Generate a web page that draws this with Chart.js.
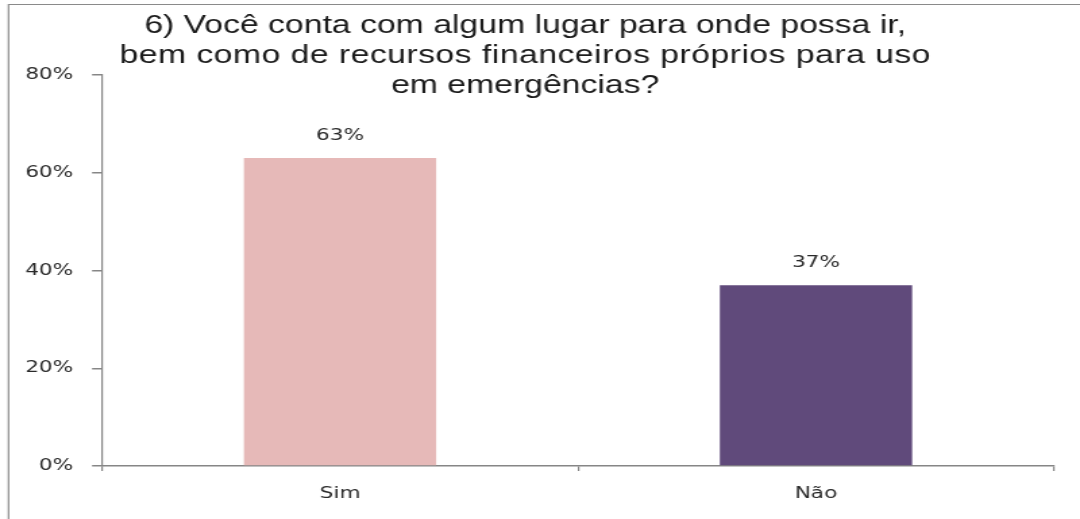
<!DOCTYPE html>
<html>
<head>
<meta charset="utf-8">
<script src="https://cdn.jsdelivr.net/npm/chart.js@4"></script>
<style>
  html, body { margin: 0; padding: 0; background: #fff; overflow: hidden; }
  /* the chart is laid out on an 800px canvas and stretched horizontally to 1080px */
  #wrap { width: 800px; height: 519px; transform: scale(1.35, 1); transform-origin: 0 0; }
</style>
</head>
<body>
<div id="wrap"><canvas id="c" width="800" height="519"></canvas></div>
<script>
const titleLines = [
  '6) Você conta com algum lugar para onde possa ir,',
  'bem como de recursos financeiros próprios para uso',
  'em emergências?'
];
const categories = ['Sim', 'Não'];
const shares = [63, 37];
const barColors = ['#E6B9B8', '#604A7B'];
const yMin = 0;
const yMax = 80;
const yStep = 20;

const axisGray = '#868686';
const textDark = '#2a2a2a';
const tickFont = { family: '"DejaVu Sans", Verdana, sans-serif', size: 16 };

// white page with the thin left/top frame line
const framePlugin = {
  id: 'frame',
  beforeDraw(chart) {
    const ctx = chart.ctx;
    ctx.save();
    ctx.fillStyle = '#fff';
    ctx.fillRect(0, 0, chart.width, chart.height);
    ctx.strokeStyle = '#8a8a8a';
    ctx.lineWidth = 1.2;
    ctx.beginPath();
    ctx.moveTo(6.3, chart.height);
    ctx.lineTo(6.3, 4.5);
    ctx.lineTo(chart.width, 4.5);
    ctx.stroke();
    ctx.restore();
  }
};

// three-line heading drawn over the top of the plot area
const headingPlugin = {
  id: 'heading',
  afterDraw(chart) {
    const ctx = chart.ctx;
    ctx.save();
    ctx.font = '25px "Liberation Sans", Arial, sans-serif';
    ctx.fillStyle = '#1c1c1c';
    ctx.textAlign = 'center';
    ctx.textBaseline = 'alphabetic';
    const baselines = [33, 63, 93];
    const spacing = ['0px', '0.35px', '0px'];
    titleLines.forEach((line, i) => {
      ctx.letterSpacing = spacing[i];
      ctx.fillText(line, 389, baselines[i]);
    });
    ctx.restore();
  }
};

// percentage above each bar
const valuePlugin = {
  id: 'values',
  afterDatasetsDraw(chart) {
    const ctx = chart.ctx;
    const meta = chart.getDatasetMeta(0);
    ctx.save();
    ctx.font = '16px "DejaVu Sans", Verdana, sans-serif';
    ctx.fillStyle = textDark;
    ctx.textAlign = 'center';
    ctx.textBaseline = 'middle';
    meta.data.forEach((bar, i) => {
      ctx.fillText(shares[i] + '%', bar.x, bar.y - 22);
    });
    ctx.restore();
  }
};

new Chart(document.getElementById('c'), {
  type: 'bar',
  data: {
    labels: categories,
    datasets: [{
      data: shares,
      backgroundColor: barColors,
      borderWidth: 0,
      categoryPercentage: 1,
      barPercentage: 0.404
    }]
  },
  options: {
    responsive: false,
    animation: false,
    devicePixelRatio: 1,
    layout: { padding: { top: 75, right: 19.3, bottom: 0, left: 0 } },
    plugins: {
      legend: { display: false },
      title: { display: false },
      tooltip: { enabled: false }
    },
    scales: {
      x: {
        grid: {
          offset: true,
          drawOnChartArea: false,
          drawTicks: true,
          tickLength: 5,
          color: axisGray,
          lineWidth: 1.2
        },
        border: { display: true, color: axisGray, width: 1.5 },
        ticks: { font: tickFont, color: textDark, padding: 13 },
        afterFit(scale) { scale.height = 53; }
      },
      y: {
        min: yMin,
        max: yMax,
        grid: {
          drawOnChartArea: false,
          drawTicks: true,
          tickLength: 7.4,
          color: axisGray,
          lineWidth: 1.5
        },
        border: { display: true, color: axisGray, width: 1.2 },
        ticks: {
          stepSize: yStep,
          font: tickFont,
          color: textDark,
          padding: 14,
          callback: v => v + '%'
        },
        afterFit(scale) { scale.width = 75.6; }
      }
    }
  },
  plugins: [framePlugin, headingPlugin, valuePlugin]
});
</script>
</body>
</html>
